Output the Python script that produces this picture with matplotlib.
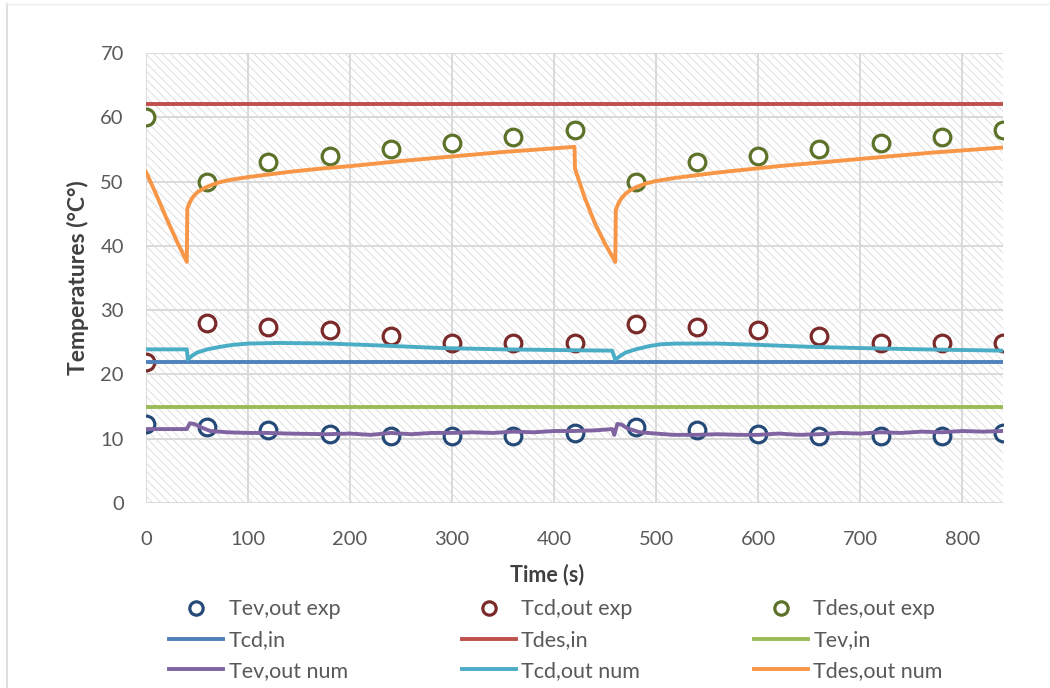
import matplotlib.pyplot as plt
from matplotlib.patches import Rectangle
from matplotlib.lines import Line2D

plt.rcParams['font.family'] = ['Lato', 'DejaVu Sans']
plt.rcParams['hatch.linewidth'] = 0.6
plt.rcParams['hatch.color'] = '#dadada'

# experimental points
t_exp = [0, 60, 120, 180, 240, 300, 360, 420, 480, 540, 600, 660, 720, 780, 840]
tev_out_exp = [12.3, 11.8, 11.3, 10.8, 10.4, 10.4, 10.4, 10.9, 11.8, 11.3, 10.8, 10.4, 10.4, 10.4, 10.9]
tcd_out_exp = [21.9, 28.0, 27.4, 26.9, 26.0, 24.9, 24.9, 24.9, 27.9, 27.4, 26.9, 26.0, 24.9, 24.9, 24.9]
tdes_out_exp = [60.0, 50.0, 53.0, 54.0, 55.0, 56.0, 57.0, 58.0, 50.0, 53.0, 54.0, 55.0, 56.0, 57.0, 58.0]

# inlet temperatures (constant)
t_in = [0, 840]
tcd_in = [22, 22]
tdes_in = [62, 62]
tev_in = [15, 15]

# numerical results
t_des = [0, 10, 20, 30, 40, 40.5, 43, 46, 50, 55, 60, 70, 80, 100, 120, 140, 170, 200, 250, 300, 350, 420,
         420.5, 430, 440, 450, 460, 460.5, 463, 466, 470, 475, 480, 490, 500, 520, 540, 560, 590, 620, 670, 720, 770, 840]
tdes_out_num = [51.5, 48.0, 44.3, 40.8, 37.5, 45.8, 46.8, 47.6, 48.3, 48.8, 49.2, 49.8, 50.2, 50.7, 51.1, 51.5, 52.0, 52.4, 53.2, 53.9, 54.6, 55.4,
                52.0, 47.5, 43.5, 40.3, 37.5, 45.6, 46.6, 47.4, 48.1, 48.7, 49.1, 49.7, 50.1, 50.6, 51.0, 51.4, 51.9, 52.4, 53.1, 53.8, 54.5, 55.3]

t_cd = [0, 38, 40, 41, 45, 50, 60, 73, 85, 100, 130, 180, 230, 290, 350, 400, 457, 458, 460, 465, 470, 480, 493, 505, 520, 560, 600, 650, 700, 760, 840]
tcd_out_num = [23.9, 23.9, 23.9, 22.3, 22.9, 23.4, 23.9, 24.3, 24.6, 24.8, 24.9, 24.8, 24.5, 24.1, 23.9, 23.8, 23.7, 23.2, 22.3, 22.9, 23.4, 23.9, 24.4, 24.7, 24.8, 24.8, 24.6, 24.3, 24.1, 23.9, 23.7]

t_ev = [0, 40, 43, 47, 55, 63, 80, 100, 119, 140, 177, 200, 220, 240, 260, 280, 300, 320, 340, 360, 380, 400, 420, 440, 457,
        459, 462, 466, 472, 484, 500, 517, 540, 560, 582, 600, 620, 640, 660, 680, 700, 720, 740, 760, 780, 800, 820, 840]
tev_out_num = [11.5, 11.5, 12.4, 12.3, 11.7, 11.2, 11.0, 10.9, 10.9, 10.8, 10.7, 10.8, 10.6, 10.9, 10.7, 10.9, 10.9, 11.0, 10.9, 11.1, 11.0, 11.2, 11.2, 11.3, 11.5,
               10.6, 12.3, 12.2, 11.6, 11.0, 10.8, 10.6, 10.6, 10.7, 10.6, 10.6, 10.8, 10.6, 10.7, 10.9, 10.8, 11.0, 10.9, 11.1, 11.0, 11.2, 11.1, 11.2]

fig = plt.figure(figsize=(10.5, 6.88), dpi=100)
ax = fig.add_axes([146 / 1050, 1 - 503 / 688, (1003 - 146) / 1050, (503 - 53) / 688])

# hatched plot area background
ax.add_patch(Rectangle((0, 0), 1, 1, transform=ax.transAxes, facecolor='white',
                       edgecolor='#dadada', hatch='\\\\\\\\', linewidth=0, zorder=0))

ms = 12
mew = 2.3
lw = 2.8
ax.plot(t_exp, tev_out_exp, 'o', ms=ms, mfc='white', mec='#264a78', mew=mew, label='Tev,out exp', zorder=3)
ax.plot(t_exp, tcd_out_exp, 'o', ms=ms, mfc='white', mec='#7a2a29', mew=mew, label='Tcd,out exp', zorder=3)
ax.plot(t_exp, tdes_out_exp, 'o', ms=ms, mfc='white', mec='#5d7229', mew=mew, label='Tdes,out exp', zorder=3)
ax.plot(t_in, tcd_in, color='#4f81bd', lw=lw, label='Tcd,in', zorder=4)
ax.plot(t_in, tdes_in, color='#c0504d', lw=lw, label='Tdes,in', zorder=4)
ax.plot(t_in, tev_in, color='#9bbb59', lw=lw, label='Tev,in', zorder=4)
ax.plot(t_ev, tev_out_num, color='#8064a2', lw=lw, label='Tev,out num', zorder=4)
ax.plot(t_cd, tcd_out_num, color='#4bacc6', lw=lw, label='Tcd,out num', zorder=4)
ax.plot(t_des, tdes_out_num, color='#f79646', lw=lw, label='Tdes,out num', zorder=4)

ax.set_xlim(0, 840)
ax.set_ylim(0, 70)
ax.set_xticks(range(0, 801, 100))
ax.set_yticks(range(0, 71, 10))
ax.grid(True, color='#d9d9d9', lw=1.4, zorder=1)
ax.set_axisbelow(True)
for s in ax.spines.values():
    s.set_visible(False)
ax.tick_params(axis='both', length=0, labelsize=14.5, labelcolor='#595959')
ax.tick_params(axis='x', pad=20)
ax.tick_params(axis='y', pad=16)
ax.set_xlabel('Time (s)', fontsize=15.5, fontweight='bold', color='#404040')
ax.xaxis.set_label_coords((547 - 146) / (1003 - 146), -(575 - 503) / (503 - 53), transform=ax.transAxes)
ax.xaxis.label.set_va('center')
ax.set_ylabel('Temperatures (°C°)', fontsize=16.5, fontweight='bold', color='#404040')
ax.yaxis.set_label_coords(-(146 - 78) / (1003 - 146), (503 - 278) / (503 - 53), transform=ax.transAxes)
ax.yaxis.label.set_va('center')

h, l = ax.get_legend_handles_labels()
order = [0, 3, 6, 1, 4, 7, 2, 5, 8]
leg = fig.legend([h[i] for i in order], [l[i] for i in order], ncol=3,
                 loc='upper left', bbox_to_anchor=(150 / 1050, 1 - 580 / 688),
                 frameon=False, fontsize=15.5, handlelength=2.5, handletextpad=0.25,
                 columnspacing=5.3, labelspacing=0.5, markerscale=0.8)
for txt in leg.get_texts():
    txt.set_color('#595959')

# chart border
fig.add_artist(Line2D([7 / 1050, 7 / 1050], [0, 1 - 4 / 688], color='#d9d9d9', lw=1.2))
fig.add_artist(Line2D([7 / 1050, 1], [1 - 4 / 688, 1 - 4 / 688], color='#eeeeee', lw=1.0))

fig.savefig('out.png', dpi=100)
